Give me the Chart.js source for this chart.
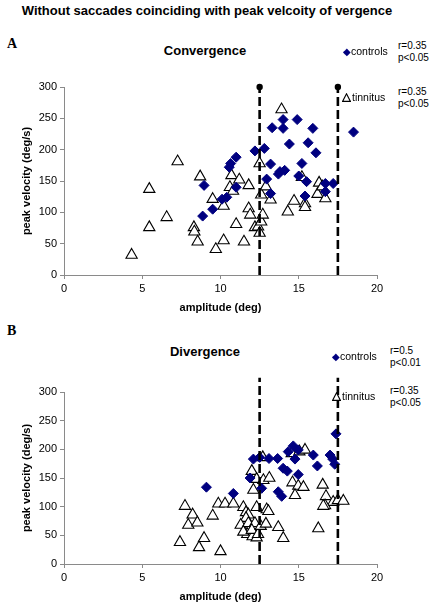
<!DOCTYPE html>
<html lang="en">
<head>
<meta charset="UTF-8">
<title>Peak velocity vs amplitude</title>
<script src="https://cdn.jsdelivr.net/npm/chart.js"></script>
<style>
    body { margin: 0; background: #fff; font-family: "Liberation Sans", Arial, sans-serif; }
    #page { position: relative; width: 430px; height: 609px; overflow: hidden; }
    .panel { position: absolute; left: 0; width: 430px; }
    .txt { position: absolute; white-space: nowrap; color: #000; line-height: 1.15; }
    .main-title { font-weight: bold; font-size: 13px; left: 0; width: 414px; text-align: center; }
    .letter { font-family: "Liberation Serif", "Times New Roman", serif; font-weight: bold; font-size: 14px; left: 7px; }
    .sub-title { font-weight: bold; font-size: 13px; left: 0; width: 410px; text-align: center; }
    .leg { font-size: 10.5px; z-index: 2; }
    .leg .dia { color: #000080; font-size: 10px; }
    .leg svg { vertical-align: -1px; margin-right: 1px; }
    .stat { font-size: 10px; line-height: 12px; }
</style>
</head>
<body>
<div id="page">
    <div class="txt main-title" style="top:4px">Without saccades coinciding with peak velcoity of vergence</div>

    <div class="txt letter" style="top:36px">A</div>
    <div class="txt sub-title" style="top:44px">Convergence</div>
    <div class="txt leg" style="left:343px;top:45px"><span class="dia">◆</span>controls</div>
    <div class="txt stat" style="left:398px;top:40px">r=0.35<br>p&lt;0.05</div>
    <div class="txt leg" style="left:342px;top:91px"><svg width="9" height="9"><polygon points="4.5,0.8 8.4,8.4 0.6,8.4" fill="#fff" stroke="#000" stroke-width="1.1"/></svg>tinnitus</div>
    <div class="txt stat" style="left:398px;top:86px">r=0.35<br>p&lt;0.05</div>

    <div class="txt letter" style="top:323px">B</div>
    <div class="txt sub-title" style="top:345px">Divergence</div>
    <div class="txt leg" style="left:332px;top:350px"><span class="dia">◆</span>controls</div>
    <div class="txt stat" style="left:390px;top:345px">r=0.5<br>p&lt;0.01</div>
    <div class="txt leg" style="left:332px;top:390px"><svg width="9" height="9"><polygon points="4.5,0.8 8.4,8.4 0.6,8.4" fill="#fff" stroke="#000" stroke-width="1.1"/></svg>tinnitus</div>
    <div class="txt stat" style="left:390px;top:385px">r=0.35<br>p&lt;0.05</div>

    <canvas id="convChart" class="panel" style="top:0"></canvas>
    <canvas id="divChart" class="panel" style="top:315px"></canvas>
</div>

<script>
// amplitude (deg) / peak velocity (deg/s) pairs
const convControls = [
    [8.86, 94], [8.95, 143], [9.5, 105], [10.1, 121], [10.4, 124], [10.56, 172],
    [10.65, 178], [11.0, 188], [11.0, 140], [12.2, 198], [12.8, 202], [12.95, 153],
    [13.2, 177], [13.2, 130], [13.3, 235], [13.7, 161], [13.8, 165], [14.0, 248],
    [14.0, 234], [14.1, 167], [14.4, 209], [14.9, 248], [15.0, 158], [15.2, 178],
    [15.4, 126], [15.5, 149], [15.6, 211], [15.9, 234], [16.1, 195], [16.7, 146],
    [16.7, 133], [17.2, 146], [18.5, 228]
];
const convTinnitus = [
    [4.32, 32], [5.45, 76], [5.45, 137], [6.56, 92], [7.26, 181], [8.3, 76],
    [8.33, 69], [8.54, 53], [8.7, 157], [9.5, 121], [9.7, 41], [10.2, 110],
    [10.2, 55], [10.6, 140], [10.7, 159], [10.8, 134], [11.0, 81], [11.2, 152],
    [11.5, 53], [11.8, 143], [11.8, 106], [11.9, 96], [12.2, 76], [12.4, 77],
    [12.5, 178], [12.5, 67], [12.6, 128], [12.6, 85], [12.7, 96], [12.9, 141],
    [13.2, 120], [13.9, 264], [14.3, 101], [14.7, 118], [15.2, 156], [15.4, 114],
    [15.4, 108], [16.2, 129], [16.3, 147], [16.5, 141], [16.7, 122]
];
const divControls = [
    [9.1, 134], [10.82, 123], [11.89, 150], [12.1, 183], [12.5, 186], [13.1, 184],
    [13.65, 184], [12.63, 132], [13.69, 126], [13.91, 118], [14.0, 167], [14.27, 162],
    [14.33, 196], [14.65, 206], [14.76, 183], [14.97, 199], [14.97, 156], [15.93, 190],
    [16.19, 171], [17.0, 190], [17.17, 183], [17.3, 174], [17.38, 227]
];
const divTinnitus = [
    [14.55, 193], [15.04, 196], [15.4, 199], [12.7, 186], [12.0, 162], [12.31, 148],
    [12.74, 146], [13.12, 150], [14.6, 142], [14.97, 136], [15.3, 134], [12.1, 129],
    [14.76, 120], [16.53, 138], [16.74, 118], [17.2, 108], [17.5, 111], [17.85, 110],
    [16.68, 102], [9.86, 105], [10.29, 105], [10.82, 105], [11.46, 99], [12.31, 99],
    [12.95, 95], [7.73, 101], [8.22, 86], [7.94, 68], [8.52, 72], [7.41, 38],
    [8.63, 29], [8.95, 45], [9.5, 84], [10.0, 22], [11.63, 90], [11.78, 86],
    [11.63, 80], [11.29, 68], [11.78, 71], [12.2, 71], [11.71, 52], [12.05, 48],
    [12.31, 46], [11.46, 56], [12.0, 59], [12.4, 52], [12.57, 66], [13.06, 92],
    [12.9, 70], [13.69, 64], [14.01, 45], [16.25, 62], [16.57, 101]
];
// dashed amplitude cut-offs and how high they reach in each panel
const cutoffs = [12.5, 17.5];
const convCutTop = 300;
const divCutTop = 325;
const xTicks = [0, 5, 10, 15, 20];
const yTicks = [0, 50, 100, 150, 200, 250, 300];

const toPts = arr => arr.map(p => ({ x: p[0], y: p[1] }));

function makePanel(id, height, pad, controls, tinnitus, cutTop, topDots) {
    const canvas = document.getElementById(id);
    canvas.width = 430;
    canvas.height = height;
    canvas.style.width = '430px';
    canvas.style.height = height + 'px';

    const lines = cutoffs.map(c => ({
        type: 'line',
        data: [{ x: c, y: 0 }, { x: c, y: cutTop }],
        borderColor: '#000',
        borderWidth: 2.6,
        borderDash: [9, 4],
        pointRadius: topDots ? [0, 3.2] : 0,
        pointBorderWidth: 0,
        pointBackgroundColor: '#000',
        clip: false,
        order: 0
    }));

    new Chart(canvas, {
        type: 'scatter',
        data: {
            datasets: [
                ...lines,
                {
                    label: 'controls',
                    data: toPts(controls),
                    pointStyle: 'rectRot',
                    pointRadius: 5,
                    backgroundColor: '#000080',
                    borderColor: '#000080',
                    borderWidth: 1,
                    order: 1
                },
                {
                    label: 'tinnitus',
                    data: toPts(tinnitus),
                    pointStyle: 'triangle',
                    pointRadius: 6.5,
                    backgroundColor: '#fff',
                    borderColor: '#000',
                    borderWidth: 1.1,
                    order: 2
                }
            ]
        },
        options: {
            responsive: false,
            animation: false,
            events: [],
            layout: { padding: pad },
            plugins: { legend: { display: false }, tooltip: { enabled: false }, title: { display: false } },
            scales: {
                x: {
                    type: 'linear', min: 0, max: 20,
                    afterBuildTicks: s => { s.ticks = xTicks.map(v => ({ value: v })); },
                    afterFit: s => { s.height = 40; },
                    ticks: { color: '#000', font: { size: 11, family: 'Liberation Sans' }, padding: 3 },
                    grid: { drawOnChartArea: false, tickLength: 4, color: '#8a8a8a' },
                    border: { color: '#8a8a8a' },
                    title: { display: true, text: 'amplitude (deg)', color: '#000', padding: 0,
                             font: { size: 11, weight: 'bold', family: 'Liberation Sans' } }
                },
                y: {
                    min: 0, max: 300,
                    afterBuildTicks: s => { s.ticks = yTicks.map(v => ({ value: v })); },
                    afterFit: s => { s.width = 46; },
                    ticks: { color: '#000', font: { size: 11, family: 'Liberation Sans' }, padding: 3 },
                    grid: { drawOnChartArea: false, tickLength: 4, color: '#8a8a8a' },
                    border: { color: '#8a8a8a' },
                    title: { display: true, text: 'peak velocity (deg/s)', color: '#000', padding: 2,
                             font: { size: 11, weight: 'bold', family: 'Liberation Sans' } }
                }
            }
        }
    });
}

makePanel('convChart', 315, { top: 87, right: 53, bottom: 0, left: 18 }, convControls, convTinnitus, convCutTop, true);
makePanel('divChart', 294, { top: 77, right: 53, bottom: 5, left: 18 }, divControls, divTinnitus, divCutTop, false);
</script>
</body>
</html>
